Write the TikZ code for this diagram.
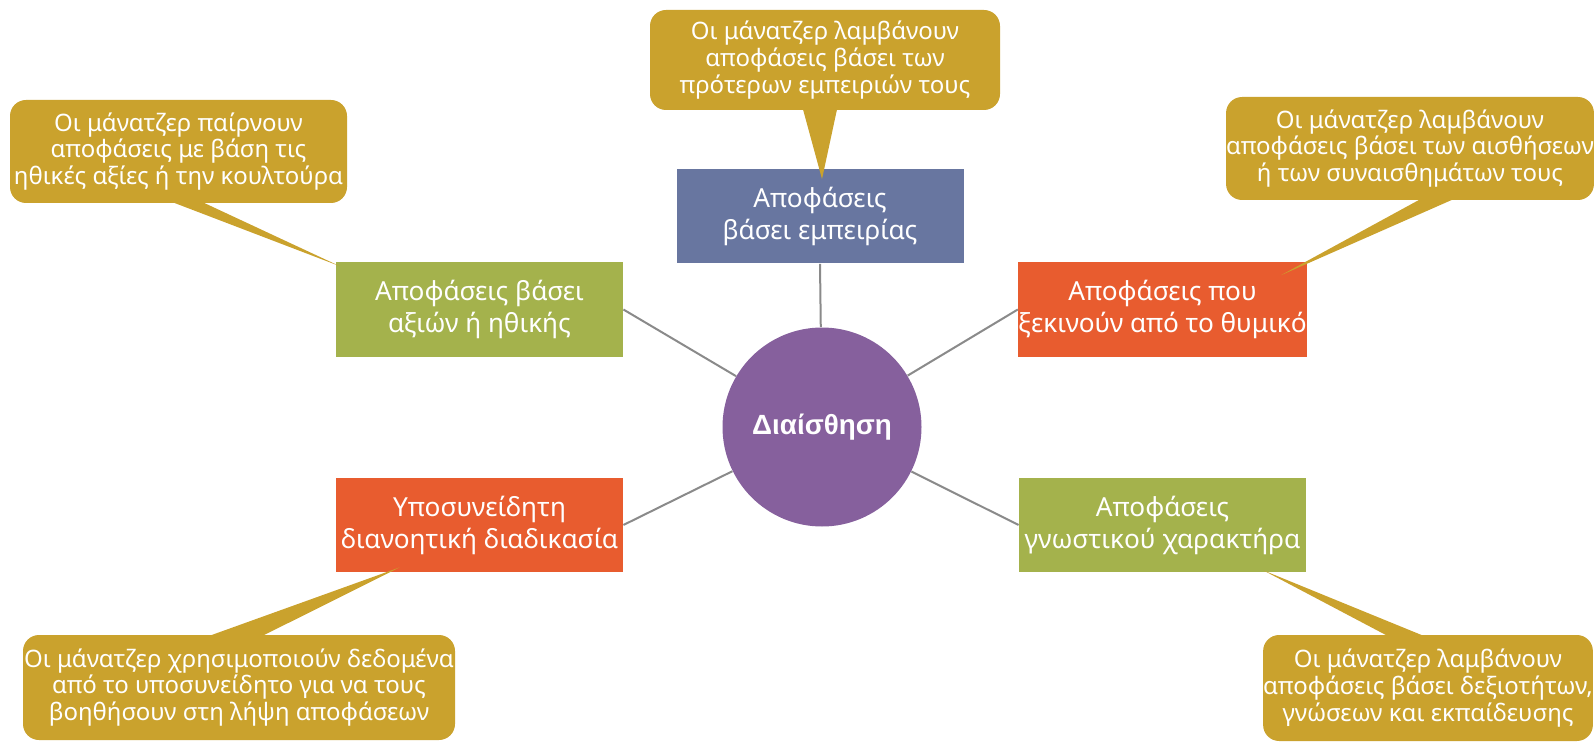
\documentclass[tikz,border=0pt]{standalone}
\usepackage{fontspec}
\setmainfont{Noto Sans}
\newfontfamily\hubfont{Liberation Sans}
\usetikzlibrary{calc}

\definecolor{notegold}{RGB}{202,162,45}
\definecolor{kindblue}{RGB}{104,118,160}
\definecolor{kindgreen}{RGB}{164,178,76}
\definecolor{kindorange}{RGB}{232,92,47}
\definecolor{hubpurple}{RGB}{134,96,157}
\definecolor{linkgray}{RGB}{138,138,138}

\begin{document}
\begin{tikzpicture}[
    x=0.5pt, y=-0.5pt,
    hub/.style={
        circle, fill=hubpurple, minimum size=99.5pt, inner sep=0pt,
        text=white, font=\hubfont\bfseries\fontsize{13.9}{15}\selectfont
    },
    kind/.style={
        rectangle, minimum width=143.5pt, minimum height=47pt, inner sep=0pt,
        align=center, text=white, font=\fontsize{13.1}{16}\selectfont
    },
    note/.style={
        rectangle, rounded corners=8pt, fill=notegold, inner sep=0pt,
        align=center, text=white, font=\fontsize{12}{13.4}\selectfont
    },
    link/.style={draw=linkgray, line width=1pt},
    tail/.style={fill=notegold}
]
\useasboundingbox (0,0) rectangle (1595,743);

\node[hub] (hub) at (822,427) {Διαίσθηση};

\node[kind, fill=kindblue]   (vT)  at (820,216.5)    {Αποφάσεις\\βάσει εμπειρίας};
\node[kind, fill=kindgreen]  (vTL) at (479.5,309.5)  {Αποφάσεις βάσει\\αξιών ή ηθικής};
\node[kind, fill=kindorange] (vTR) at (1162.5,309.5) {Αποφάσεις που\\ξεκινούν από το θυμικό};
\node[kind, fill=kindorange] (vBL) at (479.5,525)    {Υποσυνείδητη\\διανοητική διαδικασία};
\node[kind, fill=kindgreen]  (vBR) at (1162.5,525)   {Αποφάσεις\\γνωστικού χαρακτήρα};

\draw[link] (vT.south)  -- (hub);
\draw[link] (vTL.east)  -- (hub);
\draw[link] (vTR.west)  -- (hub);
\draw[link] (vBL.east)  -- (hub);
\draw[link] (vBR.west)  -- (hub);

\node[note, minimum width=175pt,   minimum height=50pt]   (cT)  at (825,60)       {Οι μάνατζερ λαμβάνουν\\αποφάσεις βάσει των\\πρότερων εμπειριών τους};
\node[note, minimum width=168.5pt, minimum height=51.5pt] (cTL) at (178.5,151.5)  {Οι μάνατζερ παίρνουν\\αποφάσεις με βάση τις\\ηθικές αξίες ή την κουλτούρα};
\node[note, minimum width=182pt,   minimum height=51.5pt] (cTR) at (1410,148.5)   {Οι μάνατζερ λαμβάνουν\\αποφάσεις βάσει των αισθήσεων\\ή των συναισθημάτων τους};
\node[note, minimum width=216pt,   minimum height=52.5pt] (cBL) at (239,687.5)    {Οι μάνατζερ χρησιμοποιούν δεδομένα\\από το υποσυνείδητο για να τους\\βοηθήσουν στη λήψη αποφάσεων};
\node[note, minimum width=164pt,   minimum height=53pt]   (cBR) at (1428,688)     {Οι μάνατζερ λαμβάνουν\\αποφάσεις βάσει δεξιοτήτων,\\γνώσεων και εκπαίδευσης};

\fill[tail] ($(cT.south)+(-22,-1)$)   -- ($(vT.north)+(2,10)$)         -- ($(cT.south)+(12,-1)$)   -- cycle;
\fill[tail] ($(cTL.south)+(-5.5,-1)$) -- ($(vTL.north west)+(4,4)$)    -- ($(cTL.south)+(24.5,-1)$) -- cycle;
\fill[tail] ($(cTR.south)+(10,-1)$)   -- ($(vTR.north east)+(-26,13)$) -- ($(cTR.south)+(43,-1)$)  -- cycle;
\fill[tail] ($(cBL.north)+(-29,1)$)   -- ($(vBL.south west)+(64,-5)$)  -- ($(cBL.north)+(24,1)$)   -- cycle;
\fill[tail] ($(cBR.north)+(-41,1)$)   -- ($(vBR.south east)+(-43,-2)$) -- ($(cBR.north)+(-5,1)$)   -- cycle;

\end{tikzpicture}
\end{document}
